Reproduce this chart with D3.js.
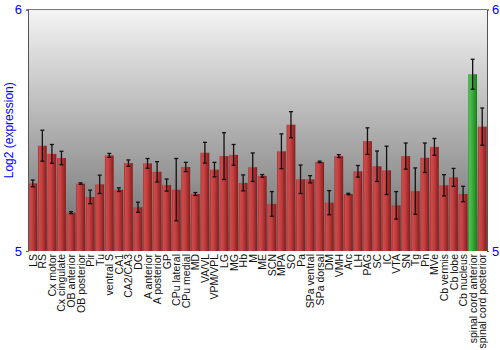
<!DOCTYPE html>
<html><head><meta charset="utf-8">
<script src="https://cdn.jsdelivr.net/npm/d3@7"></script>
<style>body{margin:0;background:#fff}</style>
</head><body><svg id="c" width="500" height="350"></svg>
<script>
const categories = ["LS","RS","Cx motor","Cx cingulate","OB anterior","OB posterior","Pir","Tu","ventral S","CA1","CA2/CA3","DG","A anterior","A posterior","GP","CPu lateral","CPu medial","MD","VA/VL","VPM/VPL","LG","MG","Hb","M","ME","SCN","MPA","SO","Pa","SPa ventral","SPa dorsal","DM","VMH","Arc","LH","PAG","SC","IC","VTA","SN","Tg","Pn","MVe","Cb vermis","Cb lobe","Cb nucleus","spinal cord anterior","spinal cord posterior"];
const values = [5.280,5.436,5.402,5.385,5.159,5.279,5.224,5.276,5.396,5.254,5.364,5.181,5.363,5.328,5.273,5.254,5.348,5.236,5.407,5.337,5.393,5.398,5.282,5.347,5.311,5.195,5.413,5.523,5.297,5.297,5.369,5.200,5.393,5.236,5.330,5.455,5.351,5.334,5.189,5.393,5.248,5.386,5.431,5.272,5.305,5.236,5.732,5.515];
const errors = [0.014,0.064,0.039,0.028,0.004,0.003,0.028,0.038,0.008,0.0075,0.013,0.021,0.020,0.042,0.025,0.129,0.019,0.006,0.043,0.030,0.097,0.043,0.033,0.059,0.0055,0.051,0.072,0.054,0.059,0.015,0.003,0.050,0.006,0.003,0.024,0.055,0.063,0.100,0.057,0.054,0.096,0.061,0.035,0.044,0.037,0.032,0.062,0.077];
const highlighted = ["spinal cord anterior"];
const yTicks = [5, 6];
const yDomain = [5, 6];
const yTitle = "Log2 (expression)";

const svg = d3.select("#c");
const L = 28, R = 487, T = 9.5, B = 251;
const x = d3.scaleBand().domain(categories).range([L, R]).paddingInner(0.08).paddingOuter(0.04);
const y = d3.scaleLinear().domain(yDomain).range([B, T]);

const defs = svg.append("defs");
const bg = defs.append("linearGradient").attr("id","bg").attr("x1",0).attr("y1",0).attr("x2",0).attr("y2",1);
bg.append("stop").attr("offset","0%").attr("stop-color","#f4f4f4");
bg.append("stop").attr("offset","100%").attr("stop-color","#6a6a6a");
const rg = defs.append("linearGradient").attr("id","red").attr("x1",0).attr("y1",0).attr("x2",1).attr("y2",0);
[["0%","#a23030"],["15%","#cf4a4a"],["45%","#c24040"],["100%","#851c1c"]].forEach(s=>rg.append("stop").attr("offset",s[0]).attr("stop-color",s[1]));
const gg = defs.append("linearGradient").attr("id","green").attr("x1",0).attr("y1",0).attr("x2",1).attr("y2",0);
[["0%","#2a9a2a"],["15%","#4cc04c"],["45%","#3cad3c"],["100%","#1c7c1c"]].forEach(s=>gg.append("stop").attr("offset",s[0]).attr("stop-color",s[1]));

svg.append("rect").attr("x",L).attr("y",T).attr("width",R-L).attr("height",B-T).attr("fill","url(#bg)");

const data = categories.map((c,i)=>({c, v:values[i], e:errors[i]}));
svg.append("g").selectAll("rect").data(data).join("rect")
  .attr("x",d=>x(d.c)).attr("width",x.bandwidth())
  .attr("y",d=>y(d.v)).attr("height",d=>B-y(d.v))
  .attr("fill",d=>highlighted.includes(d.c)?"url(#green)":"url(#red)");

const eb = svg.append("g").attr("stroke","#111").attr("stroke-width",1.3);
data.forEach(d=>{
  const cx = x(d.c)+x.bandwidth()/2;
  const y1 = y(d.v+d.e), y2 = y(d.v-d.e);
  eb.append("line").attr("x1",cx).attr("x2",cx).attr("y1",y1).attr("y2",y2);
  eb.append("line").attr("x1",cx-2).attr("x2",cx+2).attr("y1",y1).attr("y2",y1);
  eb.append("line").attr("x1",cx-2).attr("x2",cx+2).attr("y1",y2).attr("y2",y2);
});

svg.append("line").attr("x1",L).attr("x2",R).attr("y1",T).attr("y2",T).attr("stroke","#777");
const axL = d3.axisLeft(y).tickValues(yTicks).tickSize(2).tickFormat(d3.format("d"));
const axR = d3.axisRight(y).tickValues(yTicks).tickSize(2).tickFormat(d3.format("d"));
const gL = svg.append("g").attr("transform",`translate(${L},0)`).call(axL);
const gR = svg.append("g").attr("transform",`translate(${R},0)`).call(axR);
[gL,gR].forEach(g=>{
  g.select(".domain").attr("stroke","#555");
  g.selectAll(".tick line").attr("stroke","#555");
  g.selectAll(".tick text").attr("fill","#0000ff").style("font-family","Liberation Sans, Arial, sans-serif").style("font-size","13px");
});
gL.selectAll(".tick text").attr("x",-6);
gR.selectAll(".tick text").attr("x",5);

svg.append("text").attr("transform",`translate(13,${(T+B)/2}) rotate(-90)`).attr("text-anchor","middle")
  .attr("fill","#0000ff").style("font-family","Liberation Sans, Arial, sans-serif").style("font-size","12px").text(yTitle);

svg.append("g").selectAll("text").data(categories).join("text")
  .attr("transform",d=>`translate(${x(d)+x.bandwidth()/2+4},${B+3}) rotate(-90)`)
  .attr("text-anchor","end").attr("fill","#111")
  .style("font-family","Liberation Sans, Arial, sans-serif").style("font-size","10.5px").text(d=>d);
</script></body></html>
